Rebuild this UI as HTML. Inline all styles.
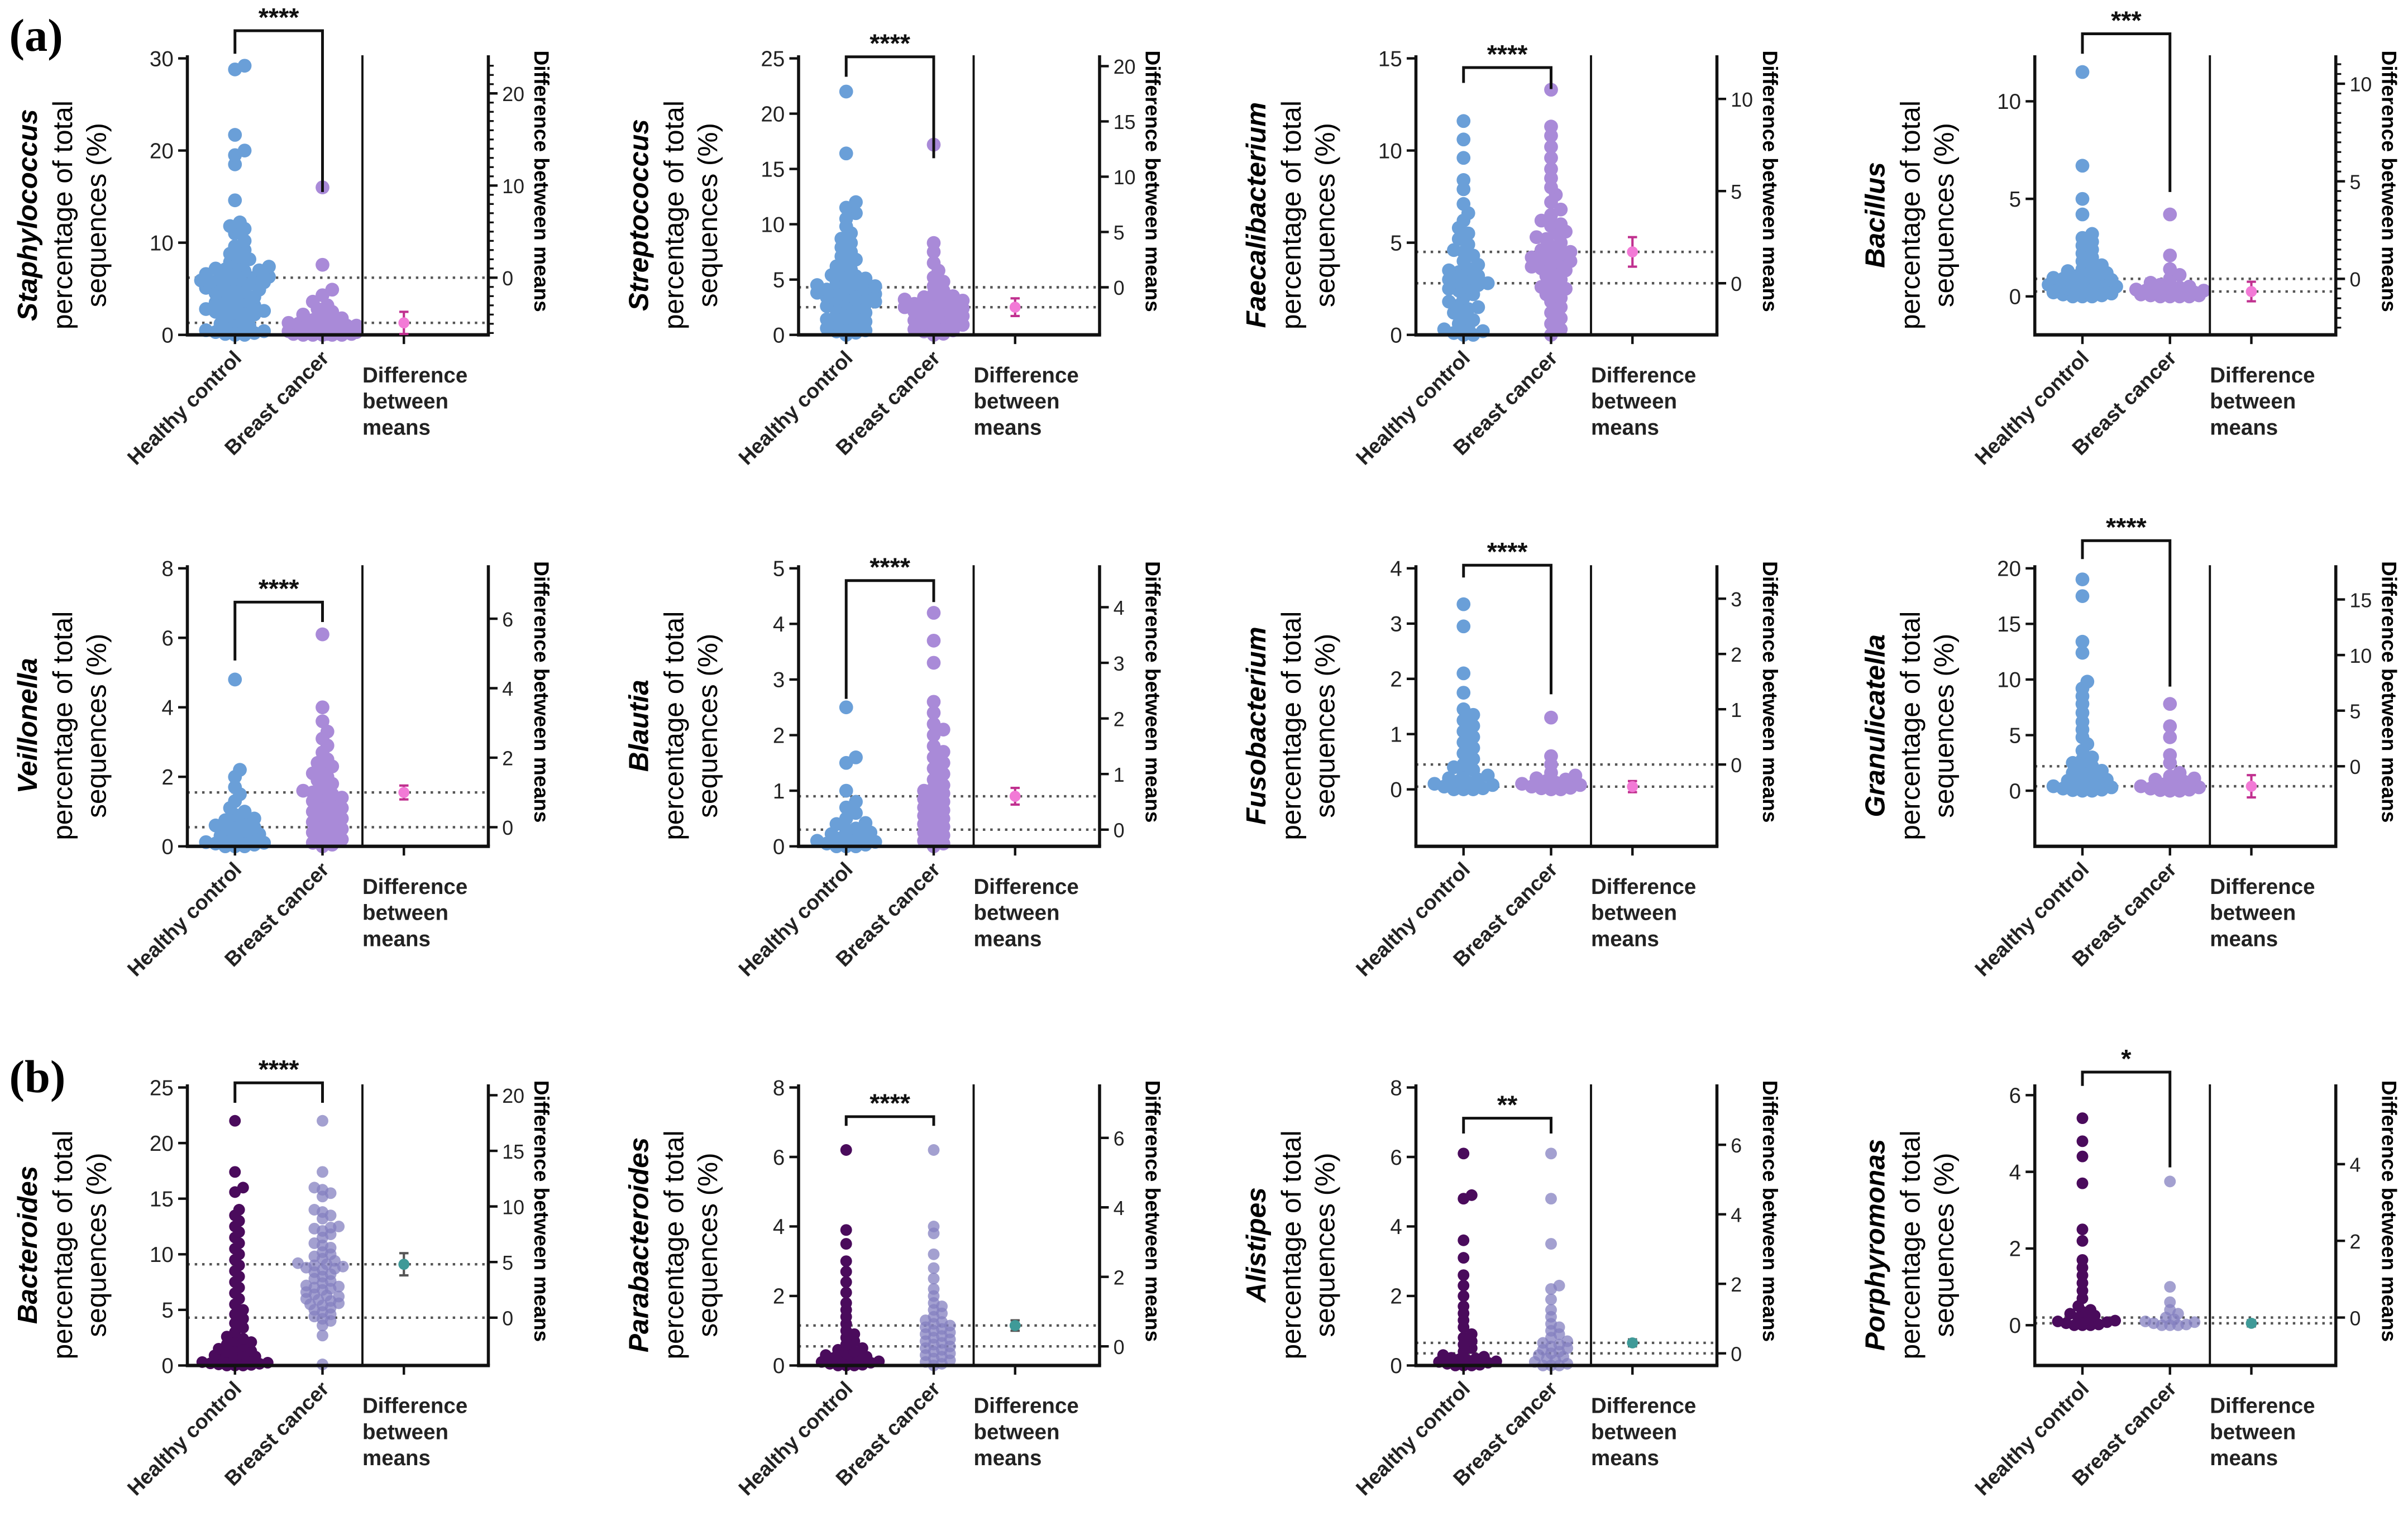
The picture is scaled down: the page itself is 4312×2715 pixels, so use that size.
<!DOCTYPE html>
<html><head><meta charset="utf-8"><style>
html,body{margin:0;padding:0;background:#fff;}
svg{display:block;font-family:"Liberation Sans",sans-serif;}
</style></head><body>
<svg id="fig" width="4312" height="2715" viewBox="0 0 1568 987" preserveAspectRatio="none" xmlns="http://www.w3.org/2000/svg">
<rect width="1568" height="987" fill="#fff"/>
<text x="6" y="33" font-family="Liberation Serif,serif" font-weight="bold" font-size="30">(a)</text>
<text x="6" y="711" font-family="Liberation Serif,serif" font-weight="bold" font-size="30">(b)</text>
</svg>
<script>
const genera=["Staphylococcus","Streptococcus","Faecalibacterium","Bacillus","Veillonella","Blautia","Fusobacterium","Granulicatella","Bacteroides","Parabacteroides","Alistipes","Porphyromonas"];
const yMins=[0,0,0,-1.97,0,0,-1.03,-5,0,0,0,-1.05];
const yMaxs=[30,25,15,12.2,8,5,4,20,25,8,8,6.2];
const leftTicks=[[0,10,20,30],[0,5,10,15,20,25],[0,5,10,15],[0,5,10],[0,2,4,6,8],[0,1,2,3,4,5],[0,1,2,3,4],[0,5,10,15,20],[0,5,10,15,20,25],[0,2,4,6,8],[0,2,4,6,8],[0,2,4,6]];
const rightTicks=[[0,10,20],[0,5,10,15,20],[0,5,10],[0,5,10],[0,2,4,6],[0,1,2,3,4],[0,1,2,3],[0,5,10,15],[0,5,10,15,20],[0,2,4,6],[0,2,4,6],[0,2,4]];
const hcMeans=[6.2,4.3,2.8,0.9,0.55,0.3,0.45,2.2,4.3,0.55,0.35,0.2];
const bcMeans=[1.3,2.5,4.5,0.25,1.55,0.9,0.05,0.4,9.1,1.15,0.65,0.05];
const diffErr=[1.2,0.8,0.8,0.5,0.2,0.15,0.1,1.0,1.0,0.15,0.1,0.08];
const stars=["****","****","****","***","****","****","****","****","****","****","**","*"];
const bracketY=[20,37,44,22,392,378,368,352,705,727,728,698];
const bracketL=[35,50,54,35,430,455,376,364,718,733,738,707];
const bracketR=[125,103,58,125,405,392,452,447,718,733,738,760];
const hc=[
[29.2,28.8,21.7,20,19.5,18.5,14.6,12.2,11.8,11.5,11,10.2,9.6,9.2,8.8,8.5,8.2,7.9,7.6,7.4,7.2,7,6.8,6.6,6.4,6.2,6.0,5.9,5.7,5.5,5.3,5.1,4.9,4.7,4.5,4.3,4.1,3.9,3.7,3.5,3.2,3.0,2.8,2.6,2.4,2.2,2.0,1.8,1.5,1.2,1.0,0.8,0.6,0.4,0.2,0.1,0,0,0.3,0.5,6.1,6.3,5.8,5.6,4.8,2.5,2.7,3.3,7.1,6.9],
[22,16.4,12,11.5,11,10.5,9.8,9.2,8.7,8.3,7.9,7.5,7.1,6.8,6.5,6.2,5.9,5.6,5.3,5.0,4.8,4.6,4.4,4.2,4.0,3.8,3.6,3.4,3.2,3.0,2.8,2.6,2.4,2.2,2.0,1.8,1.6,1.4,1.2,1.0,0.8,0.6,0.4,0.2,0,4.1,3.9,3.7,4.3,4.5,3.5,3.3,2.9,2.5,5.1,5.4,1.5,0.9,0.3],
[11.6,10.6,9.6,8.4,7.9,7.1,6.6,6.2,5.8,5.5,5.2,4.9,4.6,4.3,4.0,3.8,3.6,3.4,3.2,3.0,2.8,2.6,2.4,2.2,2.0,1.8,1.6,1.4,1.2,1.0,0.8,0.6,0.4,0.2,0,0,0.1,0.3,2.9,3.1,2.5,2.7,3.5,4.5,1.5],
[11.5,6.7,5,4.2,3.2,3.0,2.8,2.6,2.4,2.2,2.0,1.8,1.6,1.5,1.4,1.3,1.2,1.1,1.0,0.9,0.8,0.7,0.6,0.5,0.4,0.3,0.2,0.1,0,0,0,0.15,0.25,0.35,0.45,0.55,0.65,0.75,0.85,0.95,1.05,0.05],
[4.8,2.2,2.0,1.7,1.5,1.3,1.1,1.0,0.9,0.8,0.7,0.6,0.5,0.4,0.3,0.25,0.2,0.15,0.1,0.05,0,0,0,0.35,0.45,0.55,0.65,0.75,0.12,0.08],
[2.5,1.6,1.5,1.0,0.8,0.7,0.6,0.5,0.4,0.3,0.25,0.2,0.15,0.1,0.05,0,0,0,0.12,0.22,0.32,0.42,0.08,0.03],
[3.35,2.95,2.1,1.75,1.45,1.35,1.25,1.15,1.05,0.95,0.85,0.75,0.65,0.55,0.45,0.4,0.35,0.3,0.25,0.2,0.15,0.1,0.05,0,0,0,0.02,0.08,0.12,0.18],
[19,17.5,13.4,12.4,9.8,9.2,8.5,7.8,7.0,6.2,5.5,4.8,4.2,3.6,3.0,2.5,2.0,1.6,1.2,0.9,0.6,0.4,0.2,0,0,0.1,0.3,0.5,0.7,1.0,1.4,1.8,2.2,2.8,0.05],
[22,17.4,16,15.6,14,13.5,13,12.5,12,11.5,11,10.5,10,9.5,9,8.5,8,7.5,7,6.5,6,5.5,5,4.6,4.2,3.8,3.4,3,2.6,2.2,1.8,1.5,1.2,0.9,0.6,0.3,0,0,0,0.1,0.2,0.4,0.5,0.7,0.8,1,1.1,1.3,1.6,1.9,2.1,2.4,0.05,0.15,0.25],
[6.2,3.9,3.5,3.0,2.7,2.4,2.1,1.8,1.6,1.4,1.2,1.0,0.9,0.8,0.7,0.6,0.5,0.4,0.3,0.25,0.2,0.15,0.1,0.05,0,0,0,0.02,0.08,0.12,0.18,0.22,0.35,0.45],
[6.1,4.9,4.8,3.6,3.1,2.6,2.3,2.0,1.7,1.5,1.3,1.1,0.9,0.8,0.7,0.6,0.5,0.4,0.3,0.25,0.2,0.15,0.1,0.05,0,0,0,0.02,0.08,0.12,0.18,0.22],
[5.4,4.8,4.4,3.7,2.5,2.2,1.7,1.5,1.3,1.1,0.9,0.7,0.5,0.4,0.3,0.2,0.15,0.1,0.05,0,0,0,0.02,0.08,0.12,0.25,0.35]
];
const bc=[
[16,7.6,4.9,4.3,3.6,3.2,2.8,2.5,2.2,2,1.8,1.6,1.4,1.3,1.2,1.1,1,0.9,0.8,0.7,0.6,0.5,0.4,0.4,0.3,0.3,0.2,0.2,0.1,0.1,0,0,0,0,0.5,0.6,1.0,0.9,0.8,0.2,0.1,0,0.3,0.4],
[17.2,8.3,7.5,6.5,5.8,5.2,4.8,4.4,4.0,3.7,3.4,3.1,2.9,2.7,2.5,2.3,2.1,1.9,1.7,1.5,1.3,1.1,0.9,0.7,0.5,0.3,0.1,0,2.6,2.4,2.8,3.0,2.2,2.0,1.6,1.2,0.8,0.4,3.2,3.5],
[13.3,11.3,10.8,10.2,9.6,9.0,8.5,8.0,7.6,7.2,6.8,6.5,6.2,5.9,5.6,5.3,5.0,4.8,4.6,4.4,4.2,4.0,3.8,3.6,3.4,3.2,3.0,2.8,2.6,2.4,2.2,2.0,1.8,1.5,1.2,0.9,0.6,0.3,0,4.5,4.3,4.1,3.9,5.2,5.5,3.5,3.7,6.0,2.5],
[4.2,2.1,1.4,1.1,0.9,0.7,0.6,0.5,0.4,0.3,0.25,0.2,0.15,0.1,0.05,0,0,0,0.35,0.45,0.3,0.2,0.1,0.05,0],
[6.1,4.0,3.6,3.3,3.1,2.9,2.7,2.5,2.3,2.1,1.9,1.8,1.7,1.6,1.5,1.4,1.3,1.2,1.1,1.0,0.9,0.8,0.7,0.6,0.5,0.4,0.3,0.2,0.1,0,2.2,2.0,1.55,1.45,1.25,0.95,0.65,0.35,0.05,2.4],
[4.2,3.7,3.3,2.6,2.4,2.2,2.0,1.8,1.6,1.5,1.4,1.3,1.2,1.1,1.0,0.9,0.8,0.7,0.6,0.5,0.4,0.3,0.2,0.1,0,0.95,0.85,0.75,0.65,1.05,0.55,0.45,0.35,0.25,0.15,0.05,2.1,1.7],
[1.3,0.6,0.45,0.3,0.2,0.15,0.1,0.05,0,0,0.02,0.08,0.12,0.25,0.18,0.03],
[7.8,5.8,4.8,3.2,2.5,1.6,1.3,1.0,0.8,0.6,0.4,0.2,0,0,0.1,0.3,0.5,1.1,0.05],
[22,17.4,16,15.8,15.5,15.2,14,13.8,13.5,13.2,12.5,12.3,12.1,11.8,11.5,11,10.6,10.2,10,9.8,9.6,9.4,9.2,9,8.8,8.6,8.4,8.2,8,7.8,7.6,7.4,7.2,7,6.8,6.6,6.4,6.2,6,5.8,5.6,5.4,5.2,5,4.8,4.6,4.4,4.2,4,3.6,2.7,0.1,9.1,8.9,8.7,7.1,6.9,6.3,5.9,5.5,12.4,10.8],
[6.2,4.0,3.8,3.2,2.8,2.5,2.2,2.0,1.8,1.6,1.5,1.4,1.3,1.2,1.1,1.0,0.9,0.8,0.7,0.6,0.5,0.4,0.3,0.2,0.1,0,1.25,1.15,1.05,0.95,0.85,0.75,0.65,0.55,0.45,0.35,0.25,0.15,0.05,1.7],
[6.1,4.8,3.5,2.3,2.2,1.9,1.6,1.4,1.2,1.0,0.9,0.8,0.7,0.6,0.5,0.4,0.3,0.2,0.1,0,0,0,0.05,0.15,0.25,0.35,0.45,0.55,0.65,1.1],
[3.75,1.0,0.6,0.4,0.2,0.1,0.05,0,0,0,0.02,0.08,0.15,0.3]
];

const NS="http://www.w3.org/2000/svg";
const svg=document.getElementById('fig');
const colX=[122,520,922,1325];
const rowTop=[38,370,708];
const rowBot=[218,551,889];
function mk(tag,attrs,parent){const e=document.createElementNS(NS,tag);for(const k in attrs)e.setAttribute(k,attrs[k]);(parent||svg).appendChild(e);return e;}
function swarm(vals,cx,ys,r,maxW){
  const pts=[];const sorted=vals.slice().sort((a,b)=>a-b);
  const d=r*0.7;
  sorted.forEach(v=>{
    const y=ys(v);let best=null,bestScore=-1;
    for(let k=0;k<=Math.floor(maxW/d);k++){
      for(const s of (k===0?[0]:[1,-1])){
        const x=cx+s*k*d;let mind=1e9;
        pts.forEach(p=>{const dd=Math.hypot(p.x-x,p.y-y);if(dd<mind)mind=dd;});
        if(mind>=2*r*0.55){best=x;bestScore=1e9;break;}
        if(mind>bestScore){bestScore=mind;best=x;}
      }
      if(bestScore===1e9)break;
    }
    pts.push({x:best,y:y,v:v});
  });
  return pts;
}
for(let i=0;i<12;i++){
  const row=Math.floor(i/4),col=i%4;
  const ax=colX[col],top=rowTop[row],bot=rowBot[row];
  const g=mk('g',{});
  
  
  const ys=v=>bot-(v-yMins[i])/(yMaxs[i]-yMins[i])*(bot-top);
  const hx=ax+31,bx=ax+88,dvx=ax+114,dfx=ax+141,rx=ax+196;
  const rowB=row===2;
  const cHC=rowB?'#4a0b5c':'#6a9fd8',cBC=rowB?'#8480c0':'#a98ad8';
  [hcMeans[i],bcMeans[i]].forEach((m,j)=>{
    const l=mk('line',{x1:ax,x2:rx,y1:ys(m),y2:ys(m),stroke:'#555','stroke-width':1.6,'stroke-dasharray':'1.6,3.2'},g);
    
    
  });
  [[hc[i],hx,cHC,'healthy-control-dot'],[bc[i],bx,cBC,'breast-cancer-dot']].forEach(([vals,cx,col,nm])=>{
    const r=rowB?3.8:4.5;
    swarm(vals,cx,ys,r,24).forEach(p=>{
      const c=mk('circle',{cx:p.x.toFixed(1),cy:p.y.toFixed(1),r:r,fill:col,'fill-opacity':rowB&&nm[0]==='b'?0.75:1},g);
      
      
    });
  });
  const la=mk('line',{x1:ax,x2:ax,y1:top-2,y2:bot,stroke:'#111','stroke-width':2},g);
  
  const ba=mk('line',{x1:ax-1,x2:rx+1,y1:bot,y2:bot,stroke:'#111','stroke-width':2.2},g);
  
  const dv=mk('line',{x1:dvx,x2:dvx,y1:top-2,y2:bot,stroke:'#111','stroke-width':1.4},g);
  
  const ra=mk('line',{x1:rx,x2:rx,y1:top-2,y2:bot,stroke:'#111','stroke-width':2},g);
  
  leftTicks[i].forEach(t=>{
    mk('line',{x1:ax-6,x2:ax,y1:ys(t),y2:ys(t),stroke:'#111','stroke-width':1.6},g);
    const tx=mk('text',{x:ax-9,y:ys(t)+5,'text-anchor':'end','font-size':14,fill:'#222'},g);
    tx.textContent=t;
    
  });
  rightTicks[i].forEach(t=>{
    const y=ys(hcMeans[i]+t);
    mk('line',{x1:rx,x2:rx+6,y1:y,y2:y,stroke:'#111','stroke-width':1.6},g);
    const tx=mk('text',{x:rx+9,y:y+5,'font-size':13,fill:'#222'},g);
    tx.textContent=t;
    
  });
  if(i===0||i===3){
    const step=i===0?1:0.5;
    for(let v=Math.ceil((yMins[i]-hcMeans[i])/step)*step;v<=yMaxs[i]-hcMeans[i];v+=step){
      mk('line',{x1:rx,x2:rx+3.5,y1:ys(hcMeans[i]+v),y2:ys(hcMeans[i]+v),stroke:'#111','stroke-width':1.2},g);
    }
  }
  [hx,bx,dfx].forEach(x=>mk('line',{x1:x,x2:x,y1:bot,y2:bot+6,stroke:'#111','stroke-width':1.6},g));
  const dcol=rowB?'#3f9a98':'#f27ad6',ecol=rowB?'#555':'#c0308f';
  const dy=ys(bcMeans[i]),e=diffErr[i]*(bot-top)/(yMaxs[i]-yMins[i]);
  mk('line',{x1:dfx,x2:dfx,y1:dy-e,y2:dy+e,stroke:ecol,'stroke-width':1.5},g);
  mk('line',{x1:dfx-3,x2:dfx+3,y1:dy-e,y2:dy-e,stroke:ecol,'stroke-width':1.5},g);
  mk('line',{x1:dfx-3,x2:dfx+3,y1:dy+e,y2:dy+e,stroke:ecol,'stroke-width':1.5},g);
  const dp=mk('circle',{cx:dfx,cy:dy,r:3.6,fill:dcol},g);
  
  const br=mk('path',{d:`M${hx} ${bracketL[i]} V${bracketY[i]} H${bx} V${bracketR[i]}`,fill:'none',stroke:'#111','stroke-width':1.8},g);
  
  const st=mk('text',{x:(hx+bx)/2,y:bracketY[i]-3,'text-anchor':'middle','font-size':17,'font-weight':'bold',fill:'#111'},g);
  st.textContent=stars[i];
  
  const cy=(top+bot)/2+12;
  const yt=mk('text',{transform:`translate(${ax-98},${cy}) rotate(-90)`,'text-anchor':'middle','font-size':18},g);
  
  const t1=mk('tspan',{x:0,y:0,'font-weight':'bold','font-style':'italic'},yt);t1.textContent=genera[i];
  const t2=mk('tspan',{x:0,y:23},yt);t2.textContent='percentage of total';
  const t3=mk('tspan',{x:0,y:45},yt);t3.textContent='sequences (%)';
  const rt=mk('text',{transform:`translate(${rx+30},${(top+bot)/2-10}) rotate(90)`,'text-anchor':'middle','font-size':13.5,'font-weight':'bold'},g);
  rt.textContent='Difference between means';
  
  [['Healthy control',hx],['Breast cancer',bx]].forEach(([s,x])=>{
    const t=mk('text',{transform:`translate(${x+5},${bot+16}) rotate(-45)`,'text-anchor':'end','font-size':13.5,'font-weight':'bold',fill:'#222'},g);
    t.textContent=s;
    
  });
  const dl=mk('text',{x:dvx,y:bot+31,'font-size':14,'font-weight':'bold',fill:'#222'},g);
  
  ['Difference','between','means'].forEach((s,k)=>{const sp=mk('tspan',{x:dvx,dy:k?17:0},dl);sp.textContent=s;});
}
</script>
</body></html>
